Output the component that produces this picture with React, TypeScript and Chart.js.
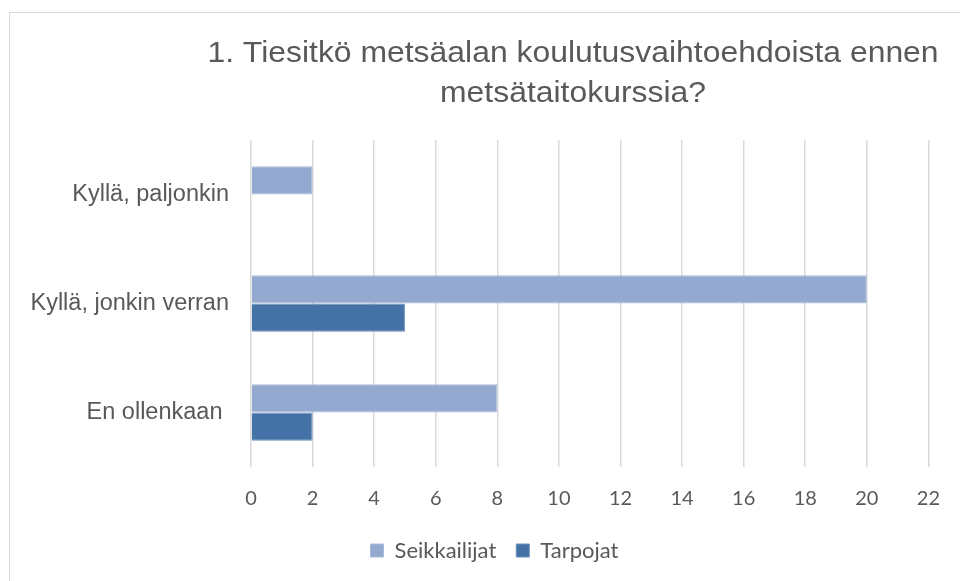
import React, { useEffect, useRef } from "react";
import { Chart, registerables } from "chart.js";

Chart.register(...registerables);

const titleLines = ["1. Tiesitkö metsäalan koulutusvaihtoehdoista ennen", "metsätaitokurssia?"];
const categories = ["Kyllä, paljonkin", "Kyllä, jonkin verran", "En ollenkaan "];
const seikkailijat = [2, 20, 8];
const tarpojat = [0, 5, 2];
const seriesNames = ["Seikkailijat", "Tarpojat"];
const xMin = 0;
const xMax = 22;
const xStep = 2;

const frameAndTitle = {
  id: "frameAndTitle",
  afterLayout(chart: any) {
    if (chart.legend) {
      chart.legend.left += 15;
      chart.legend.right += 15;
    }
  },
  afterDraw(chart: any) {
    const ctx = chart.ctx;
    ctx.save();
    ctx.strokeStyle = "#d9d9d9";
    ctx.lineWidth = 1;
    ctx.strokeRect(9.5, 12.5, 2000, 2000);
    ctx.fillStyle = "#595959";
    ctx.font = "29px 'Liberation Sans', Arial, sans-serif";
    ctx.textAlign = "center";
    ctx.textBaseline = "alphabetic";
    const sx = 1.1;
    ctx.translate(573, 0);
    ctx.scale(sx, 1);
    ctx.fillText(titleLines[0], 0, 62);
    ctx.fillText(titleLines[1], 0, 102);
    ctx.restore();
  },
};

export default function App() {
  const ref = useRef<HTMLCanvasElement>(null);
  useEffect(() => {
    if (!ref.current) return;
    const chart = new Chart(ref.current, {
      type: "bar",
      data: {
        labels: categories,
        datasets: [
          {
            label: seriesNames[0],
            data: seikkailijat,
            backgroundColor: "#94a9cf",
            borderColor: "#a9bada",
            borderWidth: 1,
          },
          {
            label: seriesNames[1],
            data: tarpojat,
            backgroundColor: "#4472a6",
            borderColor: "#6a8dba",
            borderWidth: 1,
          },
        ],
      },
      options: {
        indexAxis: "y",
        responsive: false,
        animation: false,
        layout: { padding: { left: 30, right: 31, top: 140, bottom: 9.5 } },
        datasets: { bar: { categoryPercentage: 0.52, barPercentage: 1 } },
        scales: {
          x: {
            min: xMin,
            max: xMax,
            ticks: {
              stepSize: xStep,
              color: "#595959",
              padding: 20,
              font: { family: "Lato, 'Noto Sans', sans-serif", size: 20 },
            },
            grid: { color: "#d9d9d9", lineWidth: 1.5, drawTicks: false },
            border: { display: false },
            afterFit: (s: any) => {
              s.height = 52.5;
            },
          },
          y: {
            ticks: {
              color: "#595959",
              padding: 22,
              font: { family: "'Liberation Sans', Arial, sans-serif", size: 23.5 },
            },
            grid: { display: false, drawTicks: false },
            border: { display: false },
            afterFit: (s: any) => {
              s.width = 221;
            },
          },
        },
        plugins: {
          title: { display: false },
          tooltip: { enabled: false },
          legend: {
            position: "bottom",
            labels: {
              boxWidth: 13,
              boxHeight: 13,
              padding: 20,
              color: "#595959",
              font: { family: "Lato, 'Noto Sans', sans-serif", size: 22 },
            },
          },
        },
      },
      plugins: [frameAndTitle],
    });
    return () => chart.destroy();
  }, []);
  return (
    <div style={{ position: "absolute", left: 0, top: 0, width: 960, height: 581, background: "#fff" }}>
      <canvas ref={ref} width={960} height={581} style={{ width: 960, height: 581, display: "block" }} />
    </div>
  );
}
